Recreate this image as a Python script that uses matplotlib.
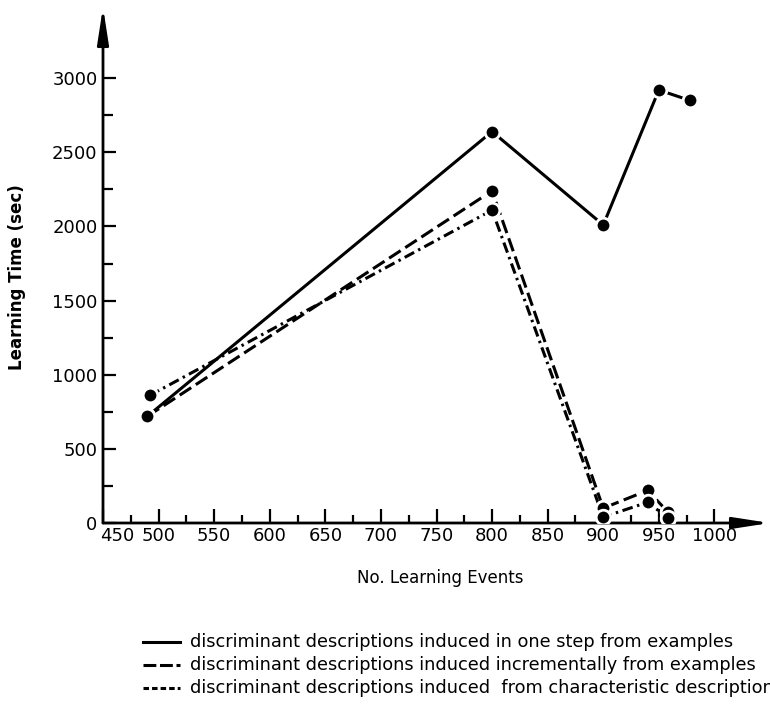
import numpy as np
import matplotlib
matplotlib.use("Agg")
import matplotlib.pyplot as plt
from matplotlib.lines import Line2D
from matplotlib.ticker import FixedLocator
import matplotlib.transforms as mtransforms

# values
one_step_x = [490, 800, 900, 950, 978]
one_step_y = [720, 2640, 2010, 2920, 2850]

incremental_x = [490, 800, 900, 940, 958]
incremental_y = [720, 2240, 100, 220, 75]

characteristic_x = [492, 800, 900, 940, 958]
characteristic_y = [860, 2110, 40, 140, 35]

legend_labels = [
    "discriminant descriptions induced in one step from examples",
    "discriminant descriptions induced incrementally from examples",
    "discriminant descriptions induced  from characteristic descriptions",
]

W, H = 770, 710
fig = plt.figure(figsize=(W / 100, H / 100), dpi=100)
ax = fig.add_axes([103 / W, 187 / H, 667 / W, 516 / H])

lw = 2.2
dash = (0, (4.5, 1.8))
dashdot = (0, (3.5, 1.5, 0.8, 1.5))

ax.plot(one_step_x, one_step_y, color="black", lw=lw, solid_capstyle="butt")
ax.plot(incremental_x, incremental_y, color="black", lw=lw, linestyle=dash)
ax.plot(characteristic_x, characteristic_y, color="black", lw=lw, linestyle=dashdot)

# dots drawn on top, white rim gives the little gaps seen in the original
for xs, ys in [(one_step_x, one_step_y), (incremental_x, incremental_y),
               (characteristic_x, characteristic_y)]:
    ax.plot(xs, ys, linestyle="none", marker="o", ms=10.5, mfc="black",
            mec="white", mew=2, zorder=5)

ax.set_xlim(450, 1050)
ax.set_ylim(0, 3480)

ax.set_xticks(np.arange(450, 1001, 50))
ax.set_yticks(np.arange(0, 3001, 500))
ax.xaxis.set_minor_locator(FixedLocator(np.arange(475, 1000, 50)))
ax.yaxis.set_minor_locator(FixedLocator(np.arange(250, 3000, 500)))

ax.tick_params(axis="x", which="major", direction="in", length=10, width=1.6,
               pad=3, labelsize=13)
ax.tick_params(axis="x", which="minor", direction="in", length=6, width=1.6)
ax.tick_params(axis="y", which="major", direction="in", length=9, width=1.6,
               pad=4, labelsize=13)
ax.tick_params(axis="y", which="minor", direction="in", length=7, width=1.6)

# nudge so 450 does not sit on top of the 0
off = mtransforms.ScaledTranslation(14 / 100, 0, fig.dpi_scale_trans)
lab450 = ax.get_xticklabels()[0]
lab450.set_transform(lab450.get_transform() + off)

for s in ax.spines.values():
    s.set_visible(False)

arrow = dict(arrowstyle="-|>,head_length=1.1,head_width=0.17", color="black",
             lw=2, mutation_scale=20, shrinkA=0, shrinkB=0)
ax.annotate("", xy=(1, 0), xytext=(0, 0), xycoords="axes fraction", arrowprops=arrow)
ax.annotate("", xy=(0, 1), xytext=(0, 0), xycoords="axes fraction", arrowprops=arrow)

fig.text(17 / W, 1 - 277 / H, "Learning Time (sec)", rotation=90, ha="center",
         va="center", fontsize=12, fontweight="bold")
fig.text(440 / W, 1 - 578 / H, "No. Learning Events", ha="center", va="center",
         fontsize=12)

styles = ["-", (0, (4.2, 1.2)), (0, (1.8, 1.0))]
rows = [642, 665, 688]
for lbl, st, r in zip(legend_labels, styles, rows):
    y = 1 - r / H
    fig.add_artist(Line2D([143 / W, 180 / W], [y, y], transform=fig.transFigure,
                          color="black", lw=lw, linestyle=st))
    fig.text(190 / W, y, lbl, ha="left", va="center", fontsize=12.8)

fig.savefig("out.png", dpi=100)
